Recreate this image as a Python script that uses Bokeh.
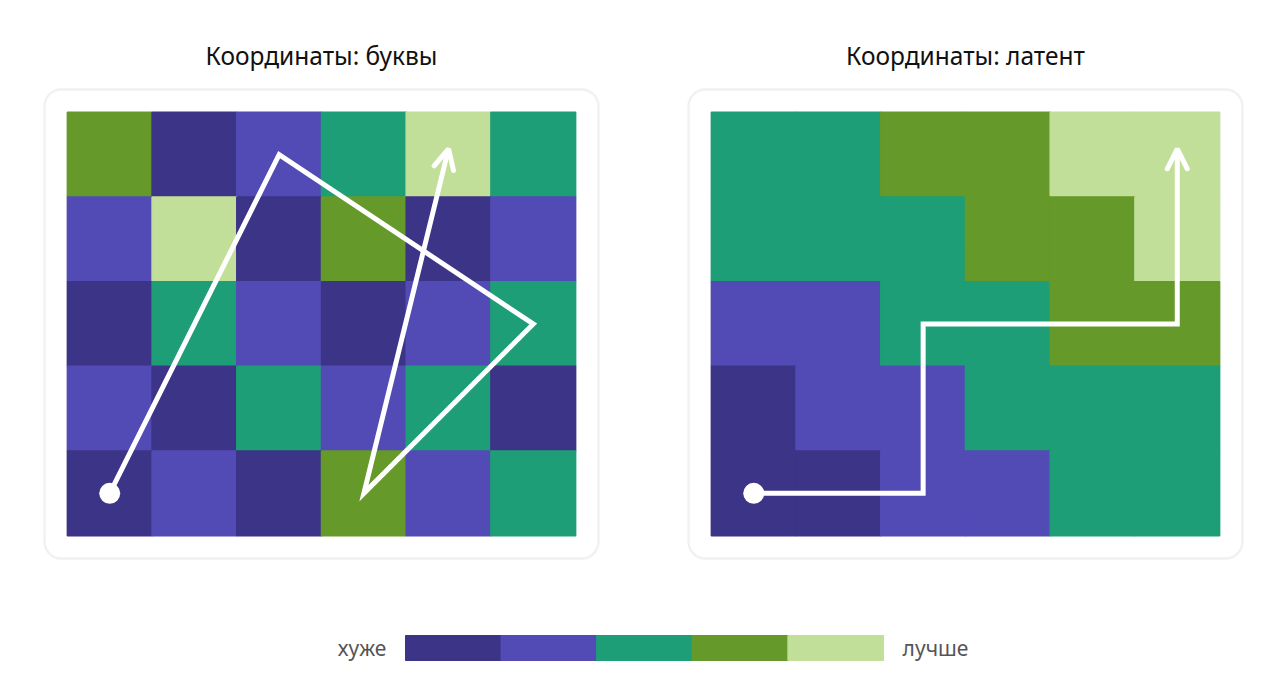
from bokeh.plotting import figure
from bokeh.models import Range1d, BoxAnnotation, Arrow, OpenHead, ColumnDataSource
from bokeh.layouts import row, column
from bokeh.embed import file_html
from bokeh.resources import INLINE
from bokeh.core.properties import value

# ---------------- data ----------------
palette = ["#3c3486", "#534bb5", "#1e9e76", "#65992a", "#c1df98"]
legend_low = "хуже"
legend_high = "лучше"

left_title = "Координаты: буквы"
right_title = "Координаты: латент"

# rows listed top -> bottom, values index into palette
left_grid = [
    [3, 0, 1, 2, 4, 2],
    [1, 4, 0, 3, 0, 1],
    [0, 2, 1, 0, 1, 2],
    [1, 0, 2, 1, 2, 0],
    [0, 1, 0, 3, 1, 2],
]
right_grid = [
    [2, 2, 3, 3, 4, 4],
    [2, 2, 2, 3, 3, 4],
    [1, 1, 2, 2, 3, 3],
    [0, 1, 1, 2, 2, 2],
    [0, 0, 1, 1, 2, 2],
]
left_path_x = [0.5, 2.5, 5.5, 3.5, 4.5]
left_path_y = [0.5, 4.5, 2.5, 0.5, 4.57]
right_path_x = [0.5, 2.5, 2.5, 5.5, 5.5]
right_path_y = [0.5, 0.5, 2.5, 2.5, 4.57]

FONT = "Noto Sans"
CELL = 84.7        # px per grid unit
PAD = 0.27         # frame box padding (units)
EXTRA = 5 / CELL   # extra room around the box
NCOL, NROW = 6, 5
TOP = 84
BOTTOM = 26


def panel(grid, px, py, title, left_border, right_border):
    fw = round((NCOL + 2 * PAD + 2 * EXTRA) * CELL)
    fh = round((NROW + 2 * PAD + 2 * EXTRA) * CELL)
    p = figure(width=left_border + fw + right_border, height=TOP + fh + BOTTOM,
               x_range=Range1d(-PAD - EXTRA, NCOL + PAD + EXTRA),
               y_range=Range1d(-PAD - EXTRA, NROW + PAD + EXTRA),
               output_backend="svg", toolbar_location=None,
               x_axis_location=None, y_axis_location=None,
               min_border_left=left_border, min_border_right=right_border,
               min_border_top=TOP, min_border_bottom=BOTTOM,
               title=title)
    p.grid.visible = False
    p.outline_line_color = None
    p.background_fill_color = "white"
    p.border_fill_color = "white"
    p.title.align = "center"
    p.title.text_font = FONT
    p.title.text_font_size = "24.5px"
    p.title.text_font_style = "normal"
    p.title.text_color = "#111111"
    p.title.standoff = 26

    p.add_layout(BoxAnnotation(left=-PAD, right=NCOL + PAD, bottom=-PAD, top=NROW + PAD,
                               fill_alpha=0, line_color="#cfcfcf", line_width=2.5,
                               border_radius=17, level="underlay"))

    xs, ys, cols = [], [], []
    for r, rowvals in enumerate(grid):
        for c, v in enumerate(rowvals):
            xs.append(c + 0.5)
            ys.append(NROW - r - 0.5)
            cols.append(palette[v])
    src = ColumnDataSource(dict(x=xs, y=ys, color=cols))
    p.rect("x", "y", width=1, height=1, source=src, fill_color="color",
           line_color="color", line_width=1.5)

    p.line(px, py, line_color="white", line_width=5, line_join="miter")
    p.add_layout(Arrow(end=OpenHead(size=20, line_color="white", line_width=5, line_cap="round"),
                       x_start=px[-2], y_start=py[-2], x_end=px[-1], y_end=py[-1],
                       line_alpha=0))
    p.scatter([px[0]], [py[0]], size=21, fill_color="white", line_color=None)
    return p


pL = panel(left_grid, left_path_x, left_path_y, left_title, 39, 41)
pR = panel(right_grid, right_path_x, right_path_y, right_title, 39, 25)

# ---------------- legend ----------------
SW = 95.6
LW, LH = 1280, 96
CENTER = 644
leg = figure(width=LW, height=LH, output_backend="svg", toolbar_location=None,
             x_range=Range1d(2.5 - CENTER / SW, 2.5 + (LW - CENTER) / SW),
             y_range=Range1d(0, LH),
             x_axis_location=None, y_axis_location=None,
             min_border=0)
leg.grid.visible = False
leg.outline_line_color = None
leg.border_fill_color = "white"
idx = list(range(len(palette)))
leg.rect([i + 0.5 for i in idx], [LH - 58.5] * len(idx), width=1, height=25,
         fill_color=palette, line_color=palette, line_width=1)
leg.text([-0.2], [LH - 58.5], text=[legend_low], text_align="right", text_baseline="middle",
         text_font=value(FONT), text_font_size="21px", text_color="#555555")
leg.text([len(palette) + 0.2], [LH - 58.5], text=[legend_high], text_align="left",
         text_baseline="middle", text_font=value(FONT), text_font_size="21px",
         text_color="#555555")

layout = column(row(pL, pR, spacing=0), leg, spacing=0)
open("out.html", "w").write(file_html(layout, INLINE))
